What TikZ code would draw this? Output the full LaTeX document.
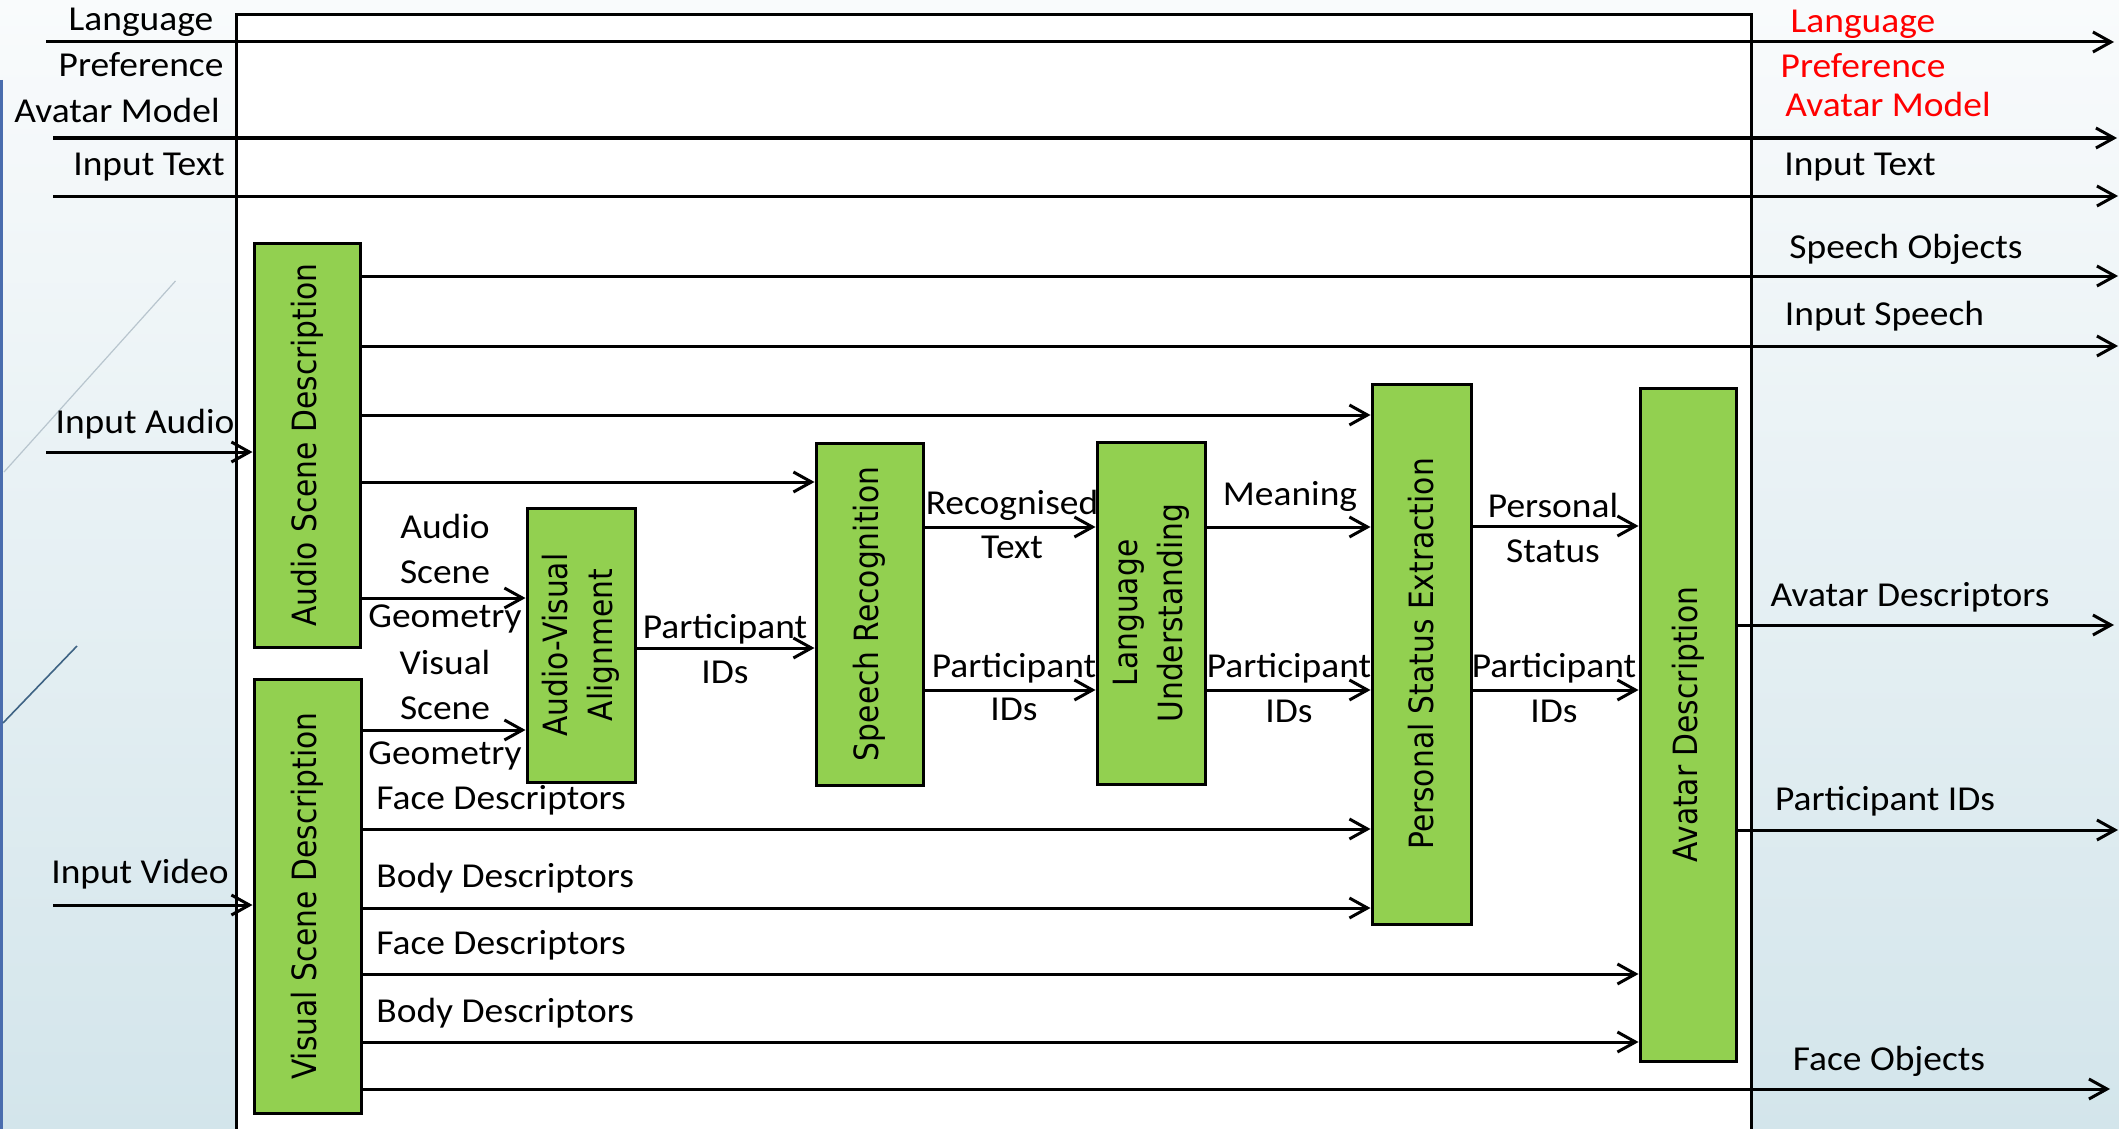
\documentclass[tikz,border=0pt]{standalone}
\usepackage{fontspec}
\usetikzlibrary{arrows.meta}
\newfontfamily\lblfont[FakeStretch=1.07]{Carlito}
\newfontfamily\boxfont[FakeStretch=0.89]{DejaVu Sans}
\definecolor{boxgreen}{HTML}{92D050}
\definecolor{bgtop}{HTML}{F9FBFC}
\definecolor{bgbot}{HTML}{D3E5EB}
\definecolor{edgeblue}{HTML}{4A6DAE}
\definecolor{decolight}{HTML}{B8C5CE}
\definecolor{decodark}{HTML}{3E6384}

\begin{document}
\begin{tikzpicture}[x=0.5pt,y=-0.5pt,
  lw/.style={line width=1.5pt},
  flow/.style={lw, -{Straight Barb[length=9pt,width=10pt,line width=1.5pt]}},
  greenbox/.style={draw, lw, fill=boxgreen, rectangle, inner sep=0pt},
  boxtxt/.style={rotate=90, align=center, inner sep=0pt,
    font=\boxfont\fontsize{16.7}{22.5}\selectfont},
  lbl/.style={anchor=base, inner sep=0pt,
    font=\lblfont\fontsize{17.5}{22}\selectfont},
  redlbl/.style={lbl, text=red}]

\useasboundingbox (0,0) rectangle (2119,1129);

% slide background
\shade[top color=bgtop, bottom color=bgbot] (0,0) rectangle (2119,1129);
\draw[edgeblue, line width=1.6pt] (1.6,80) -- (1.6,1129);
\draw[decolight, line width=0.6pt] (175.5,281) -- (4,472);
\draw[decodark, line width=0.8pt] (77,646) -- (3,723);

% system frame
\fill[white] (236,15) rectangle (1751,1129);
\draw[lw] (236,1129) -- (236,15) -- (1751,15) -- (1751,1129);

% processing modules
\node[greenbox, minimum width=53pt, minimum height=202pt] (asd) at (307,445) {};
\node[boxtxt] (asdtxt) at (asd.center) {Audio Scene Description};
\node[greenbox, minimum width=53.5pt, minimum height=217pt] (vsd) at (307.5,896) {};
\node[boxtxt] (vsdtxt) at (vsd.center) {Visual Scene Description};
\node[greenbox, minimum width=54pt, minimum height=137pt] (ava) at (581,645) {};
\node[boxtxt] (avatxt) at (ava.center) {Audio-Visual\\Alignment};
\node[greenbox, minimum width=53.5pt, minimum height=171pt] (sr) at (869.5,614) {};
\node[boxtxt] (srtxt) at (sr.center) {Speech Recognition};
\node[greenbox, minimum width=54pt, minimum height=171pt] (lu) at (1151,613) {};
\node[boxtxt] (lutxt) at (lu.center) {Language\\Understanding};
\node[greenbox, minimum width=49.5pt, minimum height=270pt] (pse) at (1421.5,654) {};
\node[boxtxt] (psetxt) at (pse.center) {Personal Status Extraction};
\node[greenbox, minimum width=48pt, minimum height=336.5pt] (ad) at (1688,724.5) {};
\node[boxtxt] (adtxt) at (ad.center) {Avatar Description};

% free ends of the external data
\coordinate (langL) at (46,42);    \coordinate (langR) at (2114,42);
\coordinate (modelL) at (53,138);  \coordinate (modelR) at (2117,138);
\coordinate (textL) at (53,196);   \coordinate (textR) at (2118,196);
\coordinate (audioL) at (46,452);
\coordinate (videoL) at (53,905);
\coordinate (sobjR) at (2118,276);
\coordinate (ispR) at (2118,346);
\coordinate (adescR) at (2114,625);
\coordinate (pidR) at (2118,830);
\coordinate (fobjR) at (2110,1089);

% pass-through data
\draw[flow] (langL) -- (langR);
\draw[flow] (modelL) -- (modelR);
\draw[flow] (textL) -- (textR);

% inputs
\draw[flow] (audioL) -- (asd.west |- audioL);
\draw[flow] (videoL) -- (vsd.west |- videoL);

% audio scene description outputs
\draw[flow] (asd.east |- sobjR) -- (sobjR);
\draw[flow] (asd.east |- ispR) -- (ispR);
\draw[flow] (asd.east |- 0,415) -- (pse.west |- 0,415);
\draw[flow] (asd.east |- 0,482) -- (sr.west |- 0,482);
\draw[flow] (asd.east |- 0,598) -- (ava.west |- 0,598);

% visual scene description outputs
\draw[flow] (vsd.east |- 0,730) -- (ava.west |- 0,730);
\draw[flow] (vsd.east |- 0,829) -- (pse.west |- 0,829);
\draw[flow] (vsd.east |- 0,908) -- (pse.west |- 0,908);
\draw[flow] (vsd.east |- 0,974) -- (ad.west |- 0,974);
\draw[flow] (vsd.east |- 0,1042) -- (ad.west |- 0,1042);
\draw[flow] (vsd.east |- fobjR) -- (fobjR);

% chain between the modules
\draw[flow] (ava.east |- 0,648) -- (sr.west |- 0,648);
\draw[flow] (sr.east |- 0,527) -- (lu.west |- 0,527);
\draw[flow] (sr.east |- 0,690) -- (lu.west |- 0,690);
\draw[flow] (lu.east |- 0,527) -- (pse.west |- 0,527);
\draw[flow] (lu.east |- 0,690) -- (pse.west |- 0,690);
\draw[flow] (pse.east |- 0,526) -- (ad.west |- 0,526);
\draw[flow] (pse.east |- 0,690) -- (ad.west |- 0,690);

% avatar description outputs
\draw[flow] (ad.east |- adescR) -- (adescR);
\draw[flow] (ad.east |- pidR) -- (pidR);

% input labels
\node[lbl] (tLang) at (141,31) {Language};
\node[lbl] (tPref) at (141,76) {Preference};
\node[lbl] (tModel) at (117,123) {Avatar Model};
\node[lbl] (tText) at (149,175) {Input Text};
\node[lbl] (tAudio) at (145,433) {Input Audio};
\node[lbl] (tVideo) at (140,883.5) {Input Video};

% inner labels
\node[lbl] (tAsg1) at (445,538) {Audio};
\node[lbl] (tAsg2) at (445,583) {Scene};
\node[lbl] (tAsg3) at (445,627) {Geometry};
\node[lbl] (tVsg1) at (445,674) {Visual};
\node[lbl] (tVsg2) at (445,719) {Scene};
\node[lbl] (tVsg3) at (445,764) {Geometry};
\node[lbl] (tPid1a) at (725,638) {Participant};
\node[lbl] (tPid1b) at (725,683) {IDs};
\node[lbl] (tRec1) at (1012,514) {Recognised};
\node[lbl] (tRec2) at (1012,558) {Text};
\node[lbl] (tPid2a) at (1014,677) {Participant};
\node[lbl] (tPid2b) at (1014,720) {IDs};
\node[lbl] (tMean) at (1290,505) {Meaning};
\node[lbl] (tPid3a) at (1289,677) {Participant};
\node[lbl] (tPid3b) at (1289,722) {IDs};
\node[lbl] (tPs1) at (1553,517) {Personal};
\node[lbl] (tPs2) at (1553,562) {Status};
\node[lbl] (tPid4a) at (1554,677) {Participant};
\node[lbl] (tPid4b) at (1554,722) {IDs};
\node[lbl, anchor=base west] (tFace1) at (376,809) {Face Descriptors};
\node[lbl, anchor=base west] (tBody1) at (376,887) {Body Descriptors};
\node[lbl, anchor=base west] (tFace2) at (376,954) {Face Descriptors};
\node[lbl, anchor=base west] (tBody2) at (376,1022) {Body Descriptors};

% output labels
\node[redlbl] (oLang) at (1863,33) {Language};
\node[redlbl] (oPref) at (1863,78) {Preference};
\node[redlbl] (oModel) at (1888,117) {Avatar Model};
\node[lbl] (oText) at (1860,175) {Input Text};
\node[lbl] (oSobj) at (1906,258) {Speech Objects};
\node[lbl] (oIsp) at (1884.5,325) {Input Speech};
\node[lbl] (oAdesc) at (1910,606) {Avatar Descriptors};
\node[lbl] (oPid) at (1885,810) {Participant IDs};
\node[lbl] (oFobj) at (1889,1070) {Face Objects};

\end{tikzpicture}
\end{document}
